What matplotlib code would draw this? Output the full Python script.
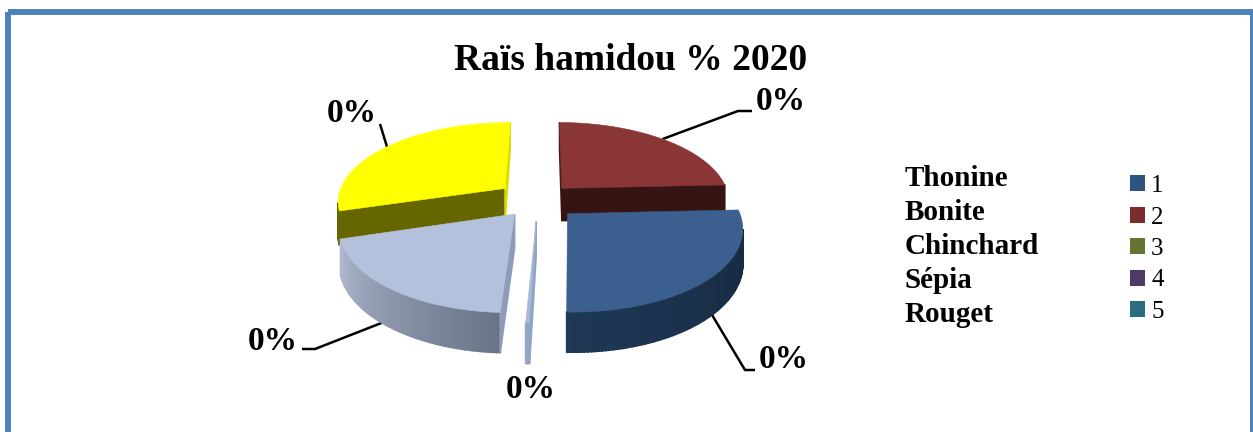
import numpy as np
import matplotlib
matplotlib.use("Agg")
import matplotlib.pyplot as plt
from matplotlib.colors import to_rgb
from matplotlib.patches import Patch, Rectangle

title = "Raïs hamidou % 2020"
species = ["Thonine", "Bonite", "Chinchard", "Sépia", "Rouget"]
legend_labels = ["1", "2", "3", "4", "5"]
slice_values = [24.2, 26.2, 0.3, 19.6, 29.7]
slice_labels = ["0%", "0%", "0%", "0%", "0%"]

top_colors = ["#8a3636", "#3b5f8f", "#a8b9d6", "#b3c1dc", "#ffff00"]
arc_colors = [("#361412", "#361412"), ("#15283d", "#1e3855"), ("#93a6c4", "#93a6c4"),
              ("#6a7387", "#aeb9cf"), ("#666600", "#666600")]
start_face = ["#4a1d1b", "#1c3350", "#8fa4c4", "#8f9cb8", "#666600"]
end_face = ["#361412", "#1c3350", "#8fa4c4", "#8f9cb8", "#dcdc00"]
legend_colors = ["#2e5382", "#7b2d2b", "#637433", "#4f3a66", "#2b6d7f"]
explode = [0.21, 0.24, 0.26, 0.22, 0.25]

cx, cy = 538, 200
rx, ry = 168, 79
persp = 0.151
depth = 33
start_angle = 0.3

plt.rcParams["font.family"] = ["Liberation Serif", "DejaVu Serif"]

fig = plt.figure(figsize=(12.53, 4.32), dpi=100)
ax = fig.add_axes([0, 0, 1, 1])
ax.set_xlim(0, 1253)
ax.set_ylim(432, 0)
ax.axis("off")

# frame of the picture
ax.add_patch(Rectangle((8, 12), 1245, 440, fill=False, ec="#4f81bd", lw=4.3))


def project(x, y, z=0):
    s = 1 / (1 + persp * y)
    return cx + rx * x * s, cy - ry * y * s + z * s


def signed_area(pts):
    a = 0
    for i in range(len(pts)):
        x0, y0 = pts[i]
        x1, y1 = pts[(i + 1) % len(pts)]
        a += x0 * y1 - x1 * y0
    return a


def face(pts, color, zorder):
    # only faces turned to the viewer
    if signed_area(pts) < 0:
        ax.fill([p[0] for p in pts], [p[1] for p in pts], color=color, lw=1.2, zorder=zorder)


edges = start_angle + 3.6 * np.concatenate([[0], np.cumsum(slice_values)])
draw_order = [0, 4, 3, 2, 1]

for n, i in enumerate(draw_order):
    t0, t1 = np.radians(edges[i]), np.radians(edges[i + 1])
    mid = (t0 + t1) / 2
    ox, oy = explode[i] * np.sin(mid), explode[i] * np.cos(mid)
    angles = np.linspace(t0, t1, max(int(np.degrees(t1 - t0)), 2) + 1)
    xs = ox + np.sin(angles)
    ys = oy + np.cos(angles)
    z = 10 + n * 5

    # outer side, shaded along the arc
    c0, c1 = np.array(to_rgb(arc_colors[i][0])), np.array(to_rgb(arc_colors[i][1]))
    for k in range(len(angles) - 1):
        f = (k + 0.5) / (len(angles) - 1)
        pts = [project(xs[k], ys[k]), project(xs[k + 1], ys[k + 1]),
               project(xs[k + 1], ys[k + 1], depth), project(xs[k], ys[k], depth)]
        face(pts, tuple(c0 + (c1 - c0) * f), z)

    # the two cut faces
    face([project(ox, oy), project(xs[0], ys[0]), project(xs[0], ys[0], depth), project(ox, oy, depth)],
         start_face[i], z + 1)
    face([project(xs[-1], ys[-1]), project(ox, oy), project(ox, oy, depth), project(xs[-1], ys[-1], depth)],
         end_face[i], z + 1)

    # top
    top = [project(ox, oy)] + [project(a, b) for a, b in zip(xs, ys)]
    ax.fill([p[0] for p in top], [p[1] for p in top], color=top_colors[i], lw=0.4, zorder=z + 2)

# data labels, with leader lines for all but the small slice
label_pos = [(781, 102), (784, 360), (531, 390), (273, 341), (352, 114)]
elbows = [[(738, 111), (752, 111)], [(745, 370), (755, 370)], None,
          [(315, 349), (302, 349)], [(380, 124)]]
for i, lab in enumerate(slice_labels):
    ax.text(label_pos[i][0], label_pos[i][1], lab, fontsize=24, fontweight="bold",
            ha="center", va="center", color="black", zorder=40)
    if elbows[i] is None:
        continue
    mid = np.radians((edges[i] + edges[i + 1]) / 2)
    x = explode[i] * np.sin(mid) + np.sin(mid)
    y = explode[i] * np.cos(mid) + np.cos(mid)
    p0 = project(x, y, depth * 0.8 if np.cos(mid) < 0 else 0)
    line = [p0] + elbows[i]
    ax.plot([p[0] for p in line], [p[1] for p in line], color="black", lw=1.8, zorder=5,
            solid_capstyle="butt")

ax.text(631, 60, title, fontsize=27, fontweight="bold", ha="center", va="center", color="black")

for name, y in zip(species, [179, 212, 246, 280, 314]):
    ax.text(905, y, name, fontsize=21, fontweight="bold", ha="left", va="center", color="black")

handles = [Patch(color=c, lw=0) for c in legend_colors]
ax.legend(handles, legend_labels, loc="upper left", bbox_to_anchor=(1130 / 1253, 1 - 175 / 432),
          frameon=False, fontsize=18, handlelength=0.6, handleheight=0.6, handletextpad=0.25,
          labelspacing=0.38, borderpad=0, borderaxespad=0)

fig.savefig("out.png", dpi=100)
